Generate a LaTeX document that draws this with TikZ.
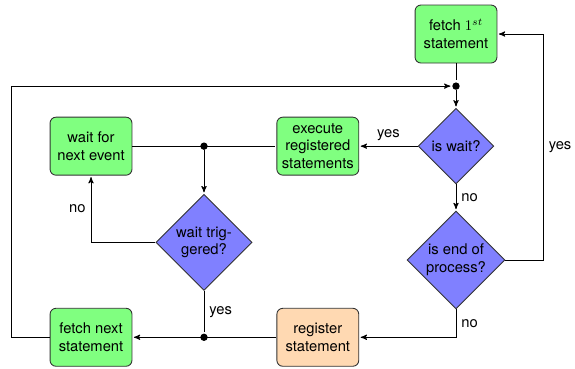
\documentclass[tikz,border=0pt]{standalone}
\usepackage{fontspec}
\setsansfont{TeX Gyre Heros}
\usetikzlibrary{arrows,shapes.geometric}

\begin{document}
\begin{tikzpicture}[->,>=stealth',shorten >=1pt,node distance=2.67cm,
                    semithick,font=\sffamily]
  \tikzstyle{block}=[rectangle,rounded corners=4pt,draw=black!80,fill=green!50,
                     minimum width=1.95cm,minimum height=1.38cm,align=center,inner sep=2pt]
  \tikzstyle{decision}=[diamond,draw=black!80,fill=blue!50,align=center,inner sep=0pt]
  \tikzstyle{junction}=[circle,fill=black,inner sep=0pt,minimum size=5pt]

  \useasboundingbox (-10.857,0.810) rectangle (2.833,-7.952);

  \node[block]  						(fetch1)                                           {fetch $1^{st}$\\statement};
  \node[junction]					(jtop)      [below of=fetch1,node distance=1.24cm] {};
  \node[decision,minimum size=1.8cm]	(iswait)    [below of=fetch1]                      {is wait?};
  \node[block]						(execute)   [left of=iswait,node distance=3.29cm]  {execute\\registered\\statements};
  \node[block]						(waitnext)  [left of=execute,node distance=5.40cm] {wait for\\next event};
  \node[junction]					(jmid)      [right of=waitnext,node distance=2.69cm] {};
  \node[decision,minimum size=2.29cm] (triggered) [below of=jmid,node distance=2.29cm]   {wait trig-\\gered?};
  \node[decision,minimum size=2.33cm] (isend)     [below of=iswait,node distance=2.71cm] {is end of\\process?};
  \node[block,fill=orange!30]		(register)  [below of=execute,node distance=4.55cm] {register\\statement};
  \node[block]						(fetchnext) [below of=waitnext,node distance=4.55cm] {fetch next\\statement};
  \node[junction]					(jbot)      [below of=jmid,node distance=4.55cm]   {};

  \path (fetch1) edge[-]				  					(jtop);
  \path (jtop) edge			  									(iswait);
  \path (iswait) edge		node[above] {yes}				(execute);
  \path (iswait) edge		node[right] {no}				(isend);
  \draw[-] (waitnext) -- (execute);
  \path (jmid) edge			  									(triggered);
  \draw (triggered) -| node[left,pos=0.75] {no}			(waitnext);
  \draw[-] (triggered) -- node[right] {yes}				(jbot);
  \draw (register) -- 										(fetchnext);
  \draw (isend) |- node[right,pos=0.25] {no}				(register);
  \draw (isend.east) -- ++(0.905,0) |- node[right,pos=0.25] {yes} (fetch1);
  \draw (fetchnext.west) -- ++(-0.905,0) |- 				(jtop);

\end{tikzpicture}
\end{document}
